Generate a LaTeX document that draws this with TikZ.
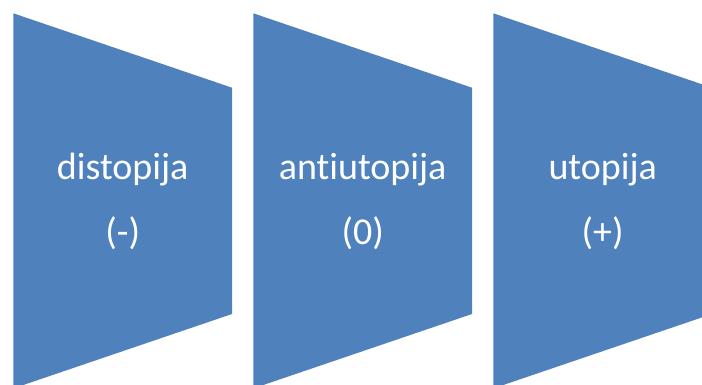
\documentclass[tikz,border=0pt]{standalone}
\usepackage{fontspec}
\setmainfont[Ligatures={NoCommon,NoRequired,NoContextual}]{Carlito}
\definecolor{segblue}{HTML}{4F81BD}
\begin{document}
\begin{tikzpicture}[x=1pt,y=-1pt,
  seg/.style={fill=segblue,draw=none},
  lbl/.style={text=white,anchor=base,inner sep=0pt,font=\fontsize{38}{45}\selectfont}]
\useasboundingbox (0,0) rectangle (702,385);
\clip (0,0) rectangle (702,385);
\foreach \i/\x in {1/13.3,2/253.3,3/493.3}{
  \path[seg] (\x,13.3) -- (\x+218.7,87.7) -- (\x+218.7,314) -- (\x,388.4) -- cycle;
}
\node[lbl] (t1) at (122.7,180) {distopija};
\node[lbl] (s1) at (122.7,244) {(-)};
\node[lbl] (t2) at (362.7,180) {antiutopija};
\node[lbl] (s2) at (362.7,244) {(0)};
\node[lbl] (t3) at (602.7,180) {utopija};
\node[lbl] (s3) at (602.7,244) {(+)};
\end{tikzpicture}
\end{document}
